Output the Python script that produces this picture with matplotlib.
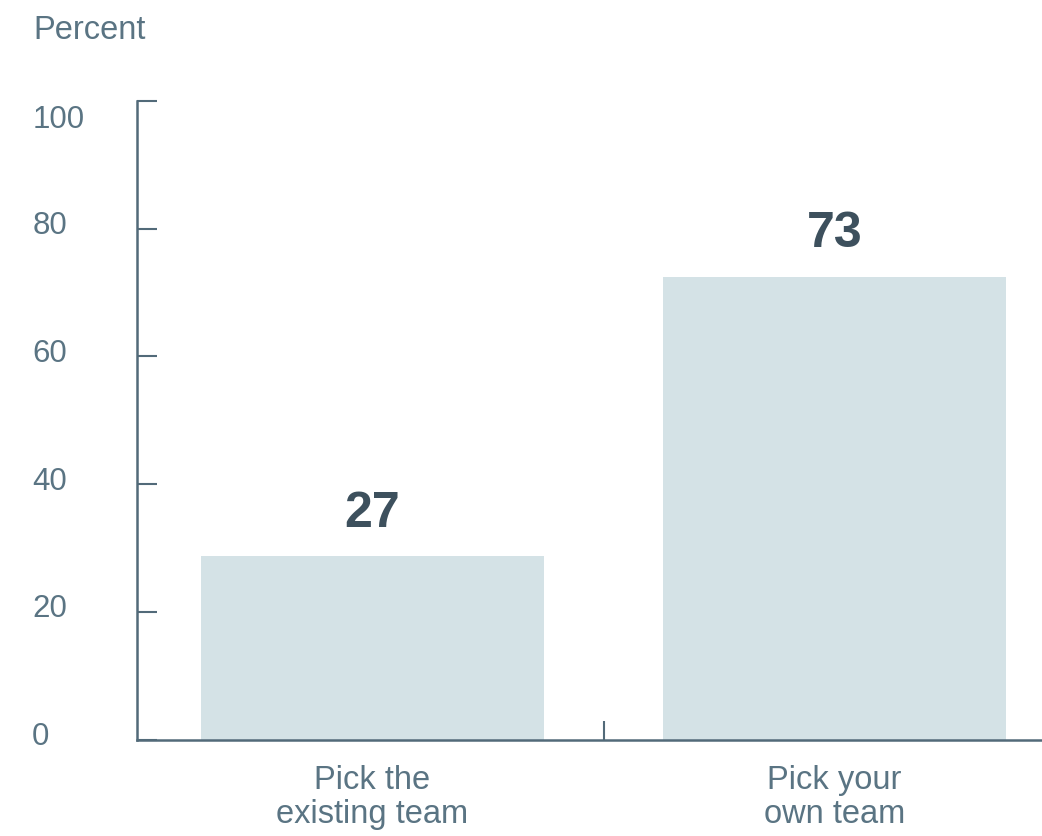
import matplotlib.pyplot as plt
import matplotlib.transforms as mtransforms

# dati
categories = ["Pick the\nexisting team", "Pick your\nown team"]
bar_heights = [28.8, 72.5]
value_labels = ["27", "73"]
y_ticks = [0, 20, 40, 60, 80, 100]

axis_col = "#526a79"
text_col = "#5a7483"
value_col = "#3d505d"
bar_col = "#d4e2e6"

plt.rcParams['font.family'] = ['Liberation Sans', 'DejaVu Sans']

fig = plt.figure(figsize=(10.42, 8.36), dpi=100)
ax = fig.add_axes([137 / 1042, 1 - 739.7 / 836, 905 / 1042, (739.7 - 101) / 836])

x = list(range(len(categories)))
ax.bar(x, bar_heights, width=0.742, color=bar_col, zorder=1)

# etichette valori
for xi, h, lab in zip(x, bar_heights, value_labels):
    ax.annotate(lab, (xi, h), xytext=(0, 21), textcoords="offset points",
                ha="center", va="baseline", fontsize=36, fontweight="bold",
                color=value_col)

ax.set_xlim(-0.5097, 1.449)
ax.set_ylim(0, 100)

for s in ["top", "right"]:
    ax.spines[s].set_visible(False)
for s in ["left", "bottom"]:
    ax.spines[s].set_color(axis_col)
    ax.spines[s].set_linewidth(1.8)
    ax.spines[s].set_zorder(3)

# asse y
ax.set_yticks(y_ticks)
ax.set_yticklabels([str(v) for v in y_ticks])
ax.tick_params(axis="y", direction="in", length=14.5, width=1.5, color=axis_col,
               labelcolor=text_col, labelsize=22.5, pad=75.5)
for lab, v in zip(ax.get_yticklabels(), y_ticks):
    lab.set_horizontalalignment("left")
    dy = -15 if v == 100 else 6
    lab.set_transform(lab.get_transform() +
                      mtransforms.ScaledTranslation(0, dy / 100, fig.dpi_scale_trans))

# asse x: etichette sotto le barre, tacca di separazione a 0.5
ax.set_xticks(x)
ax.set_xticklabels(categories, linespacing=1.12)
ax.tick_params(axis="x", which="major", length=0, labelcolor=text_col,
               labelsize=23.5, pad=18.5)
ax.set_xticks([0.5], minor=True)
ax.tick_params(axis="x", which="minor", direction="in", length=14, width=1.5,
               color=axis_col)

fig.text(33 / 1042, 1 - 39 / 836, "Percent", ha="left", va="baseline",
         fontsize=23.5, color=text_col)

fig.savefig("out.png", dpi=100)
